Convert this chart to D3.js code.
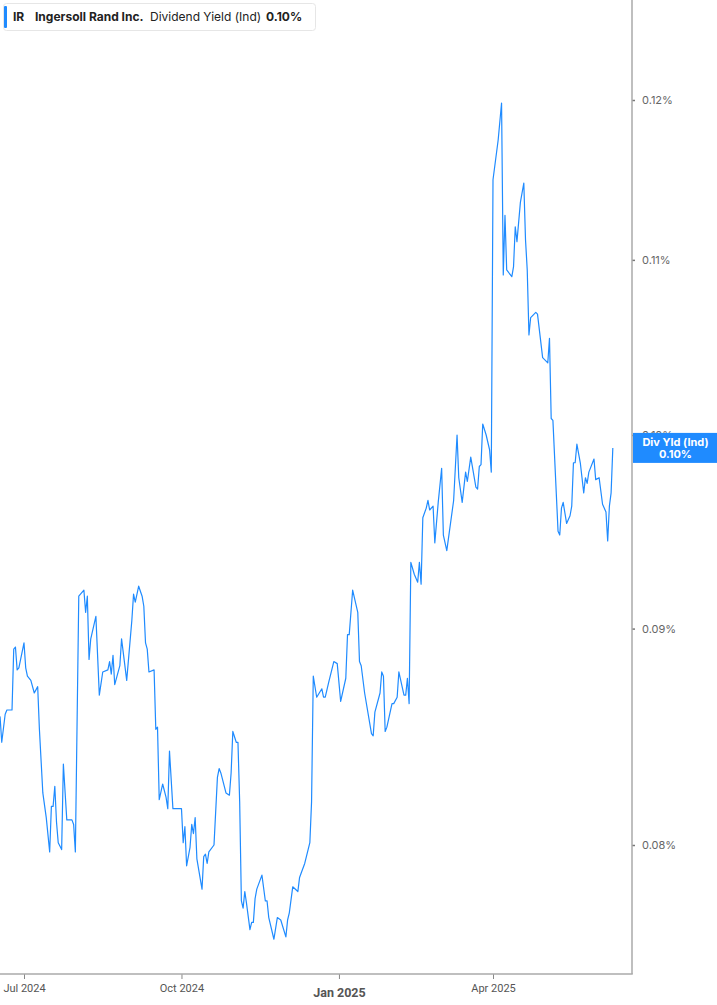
<!DOCTYPE html>
<html lang="en">
<head>
    <meta charset='utf-8'>
    <title>IR Dividend Yield</title>
    <script src="https://cdn.jsdelivr.net/npm/d3@7"></script>
    <style>
        body { margin: 0; background: #fff; }
        svg { display: block; }
    </style>
</head>
<body>
<svg id="chart"></svg>
<script>
    const ticker = "IR"
    const company = "Ingersoll Rand Inc."
    const metric = "Dividend Yield (Ind)"
    const lastLabel = "0.10%"

    const yTicks = [0.08, 0.09, 0.10, 0.11, 0.12]
    const xTicks = ["2024-07-01", "2024-10-01", "2025-01-01", "2025-04-01"]

    const dates = [
        "2024-06-17","2024-06-18","2024-06-20","2024-06-21","2024-06-24","2024-06-25","2024-06-26","2024-06-27","2024-06-28",
        "2024-07-01","2024-07-02","2024-07-03","2024-07-05","2024-07-07","2024-07-09","2024-07-10","2024-07-12","2024-07-14",
        "2024-07-16","2024-07-17","2024-07-18","2024-07-19","2024-07-20","2024-07-21","2024-07-23","2024-07-24","2024-07-26",
        "2024-07-29","2024-07-30","2024-07-31",
        "2024-08-02","2024-08-05","2024-08-06","2024-08-07","2024-08-08","2024-08-09","2024-08-12","2024-08-14","2024-08-16",
        "2024-08-19","2024-08-20","2024-08-21","2024-08-22","2024-08-23","2024-08-26","2024-08-27","2024-08-30",
        "2024-09-02","2024-09-03","2024-09-04","2024-09-06","2024-09-08","2024-09-09","2024-09-10","2024-09-11","2024-09-12",
        "2024-09-15","2024-09-16","2024-09-17","2024-09-18","2024-09-20","2024-09-22","2024-09-23","2024-09-24","2024-09-26",
        "2024-09-30",
        "2024-10-01","2024-10-02","2024-10-03","2024-10-04","2024-10-06","2024-10-07","2024-10-08","2024-10-09","2024-10-10",
        "2024-10-13","2024-10-14","2024-10-15","2024-10-16","2024-10-17","2024-10-20","2024-10-22","2024-10-23","2024-10-24",
        "2024-10-27","2024-10-29","2024-10-30","2024-10-31",
        "2024-11-02","2024-11-03","2024-11-04","2024-11-05","2024-11-06","2024-11-07","2024-11-08","2024-11-10","2024-11-11",
        "2024-11-12","2024-11-13","2024-11-14","2024-11-17","2024-11-19","2024-11-20","2024-11-21","2024-11-24","2024-11-26",
        "2024-11-28",
        "2024-12-01","2024-12-02","2024-12-03","2024-12-05","2024-12-08","2024-12-09","2024-12-10","2024-12-12","2024-12-15",
        "2024-12-16","2024-12-17","2024-12-19","2024-12-22","2024-12-23","2024-12-24","2024-12-26","2024-12-29","2024-12-31",
        "2025-01-02","2025-01-05","2025-01-06","2025-01-07","2025-01-09","2025-01-12","2025-01-13","2025-01-14","2025-01-16",
        "2025-01-20","2025-01-21","2025-01-22","2025-01-25","2025-01-26","2025-01-27","2025-01-28","2025-01-29",
        "2025-02-01","2025-02-02","2025-02-04","2025-02-05","2025-02-08","2025-02-09","2025-02-10","2025-02-11","2025-02-12",
        "2025-02-14","2025-02-16","2025-02-17","2025-02-18","2025-02-19","2025-02-21","2025-02-22","2025-02-23","2025-02-25",
        "2025-02-26","2025-02-28",
        "2025-03-02","2025-03-03","2025-03-05","2025-03-09","2025-03-11","2025-03-12","2025-03-14","2025-03-16","2025-03-17",
        "2025-03-19","2025-03-22","2025-03-23","2025-03-24","2025-03-25","2025-03-26","2025-03-28","2025-03-30","2025-03-31",
        "2025-04-01","2025-04-04","2025-04-06","2025-04-07","2025-04-08","2025-04-09","2025-04-12","2025-04-13","2025-04-14",
        "2025-04-15","2025-04-17","2025-04-19","2025-04-20","2025-04-21","2025-04-22","2025-04-23","2025-04-26","2025-04-27",
        "2025-04-30",
        "2025-05-03","2025-05-04","2025-05-05","2025-05-06","2025-05-09","2025-05-10","2025-05-11","2025-05-12","2025-05-14",
        "2025-05-16","2025-05-17","2025-05-18","2025-05-19","2025-05-20","2025-05-22","2025-05-24","2025-05-25","2025-05-26",
        "2025-05-27","2025-05-30","2025-05-31",
        "2025-06-02","2025-06-04","2025-06-06","2025-06-07","2025-06-08","2025-06-09","2025-06-10"
    ]

    // yield in percent
    const yields = [
        0.0858,0.0846,0.0859,0.0861,0.0861,0.0890,0.0891,0.0880,0.0881,
        0.0893,0.0881,0.0877,0.0875,0.0869,0.0872,0.0852,0.0823,0.0812,
        0.0797,0.0817,0.0817,0.0826,0.0810,0.0801,0.0798,0.0836,0.0811,
        0.0811,0.0809,0.0797,
        0.0916,0.0919,0.0908,0.0916,0.0885,0.0895,0.0906,0.0868,0.0879,
        0.0880,0.0884,0.0878,0.0887,0.0873,0.0882,0.0895,0.0875,
        0.0904,0.0917,0.0913,0.0921,0.0916,0.0911,0.0893,0.0890,0.0879,
        0.0880,0.0852,0.0853,0.0820,0.0827,0.0821,0.0816,0.0842,0.0816,
        0.0816,
        0.0816,0.0801,0.0808,0.0791,0.0799,0.0809,0.0805,0.0812,0.0794,
        0.0781,0.0795,0.0796,0.0792,0.0797,0.0800,0.0830,0.0834,0.0832,
        0.0823,0.0822,0.0832,0.0851,
        0.0846,0.0846,0.0819,0.0776,0.0773,0.0780,0.0775,0.0764,0.0767,
        0.0767,0.0777,0.0781,0.0787,0.0776,0.0776,0.0769,0.0760,0.0769,
        0.0768,
        0.0761,0.0768,0.0771,0.0782,0.0780,0.0786,0.0788,0.0792,0.0801,
        0.0819,0.0877,0.0867,0.0871,0.0867,0.0867,0.0874,0.0884,0.0883,
        0.0865,0.0876,0.0897,0.0897,0.0919,0.0908,0.0884,0.0882,0.0869,
        0.0850,0.0849,0.0860,0.0869,0.0879,0.0877,0.0851,0.0853,
        0.0864,0.0864,0.0867,0.0879,0.0868,0.0868,0.0876,0.0864,0.0933,
        0.0927,0.0923,0.0933,0.0922,0.0956,0.0961,0.0965,0.0960,0.0962,
        0.0943,0.0964,
        0.0982,0.0947,0.0939,0.0965,0.1000,0.0977,0.0964,0.0980,0.0975,
        0.0988,0.0972,0.0971,0.0983,0.0984,0.1006,0.1000,0.0992,0.0980,
        0.1149,0.1174,0.1198,0.1091,0.1127,0.1094,0.1090,0.1096,0.1120,
        0.1111,0.1135,0.1147,0.1112,0.1094,0.1056,0.1066,0.1069,0.1068,
        0.1043,
        0.1040,0.1054,0.1009,0.1008,0.0949,0.0947,0.0961,0.0964,0.0953,
        0.0957,0.0962,0.0985,0.0985,0.0995,0.0985,0.0969,0.0977,0.0974,
        0.0980,0.0987,0.0976,
        0.0977,0.0963,0.0959,0.0944,0.0962,0.0969,0.0993
    ]

    const width = 717
    const height = 1005
    const plotRight = 632
    const plotBottom = 974
    const blue = "#1f8bff"
    const parse = d3.timeParse("%Y-%m-%d")

    const data = dates.map((d, i) => ({date: parse(d), value: yields[i]}))

    const x = d3.scaleTime()
        .domain([parse("2024-07-01"), parse("2025-04-01")])
        .range([24, 493])

    const y = d3.scaleLog()
        .domain([0.08, 0.12])
        .range([845, 100])

    const svg = d3.select("#chart")
        .attr("width", width)
        .attr("height", height)
        .attr("viewBox", [0, 0, width, height])

    // line
    svg.append("path")
        .datum(data)
        .attr("fill", "none")
        .attr("stroke", blue)
        .attr("stroke-width", 1.2)
        .attr("stroke-linejoin", "round")
        .attr("d", d3.line().x(d => x(d.date)).y(d => y(d.value)))

    // right axis
    const yAxis = svg.append("g")
        .attr("transform", `translate(${plotRight},0)`)
        .call(d3.axisRight(y).tickValues(yTicks).tickSize(3).tickPadding(7)
            .tickFormat(d => d3.format(".2f")(d) + "%"))
    yAxis.select(".domain").remove()
    yAxis.selectAll(".tick line").attr("stroke", "#777").attr("stroke-width", 1.5)
    yAxis.selectAll(".tick text")
        .attr("fill", "#666")
        .attr("font-family", "Inter, 'Noto Sans', sans-serif")
        .attr("font-size", 11)

    svg.append("line")
        .attr("x1", plotRight).attr("x2", plotRight)
        .attr("y1", 0).attr("y2", plotBottom)
        .attr("stroke", "#aaa").attr("stroke-width", 1.5)

    // bottom axis
    const xAxis = svg.append("g")
        .attr("transform", `translate(0,${plotBottom})`)
        .call(d3.axisBottom(x).tickValues(xTicks.map(parse)).tickSize(5).tickPadding(5)
            .tickFormat(d3.timeFormat("%b %Y")))
    xAxis.select(".domain").remove()
    xAxis.selectAll(".tick line").attr("stroke", "#888")
    xAxis.selectAll(".tick text")
        .attr("fill", "#555")
        .attr("font-family", "Roboto, 'Liberation Sans', sans-serif")
        .attr("font-size", 11)
    xAxis.selectAll(".tick text")
        .filter(d => d.getMonth() === 0)
        .attr("font-weight", "bold")
        .attr("font-size", 12.5)
        .attr("dy", "1.0em")

    svg.append("line")
        .attr("x1", 0).attr("x2", plotRight + 0.75)
        .attr("y1", plotBottom).attr("y2", plotBottom)
        .attr("stroke", "#aaa").attr("stroke-width", 1.5)

    // last value tag
    const last = data[data.length - 1]
    const tag = svg.append("g")
        .attr("transform", `translate(${plotRight + 1},${y(last.value)})`)
    tag.append("rect")
        .attr("x", 0).attr("y", -15)
        .attr("width", width - plotRight - 1).attr("height", 30)
        .attr("fill", blue)
    tag.append("text")
        .attr("x", (width - plotRight) / 2).attr("y", -2)
        .attr("text-anchor", "middle")
        .attr("fill", "#fff")
        .attr("font-family", "Inter, 'Noto Sans', sans-serif")
        .attr("font-weight", "bold")
        .attr("font-size", 11)
        .text("Div Yld (Ind)")
    tag.append("text")
        .attr("x", (width - plotRight) / 2).attr("y", 10)
        .attr("text-anchor", "middle")
        .attr("fill", "#fff")
        .attr("font-family", "Inter, 'Noto Sans', sans-serif")
        .attr("font-weight", "bold")
        .attr("font-size", 11)
        .text(lastLabel)

    // legend header
    const head = svg.append("g")
    head.append("rect")
        .attr("x", 3.5).attr("y", 3.5)
        .attr("width", 312).attr("height", 27).attr("rx", 3)
        .attr("fill", "#fff").attr("stroke", "#e6e6e6")
    head.append("rect")
        .attr("x", 4).attr("y", 6)
        .attr("width", 3).attr("height", 22).attr("rx", 1)
        .attr("fill", blue)
    const headText = head.append("text")
        .attr("y", 21)
        .attr("font-family", "Inter, 'Noto Sans', sans-serif")
        .attr("font-size", 12)
        .attr("fill", "#222")
    headText.append("tspan").attr("x", 13).attr("font-weight", "bold").text(ticker)
    headText.append("tspan").attr("x", 35).attr("font-weight", "bold").text(company)
    headText.append("tspan").attr("x", 150).text(metric)
    headText.append("tspan").attr("x", 266).attr("font-weight", "bold").text(lastLabel)
</script>
</body>
</html>
